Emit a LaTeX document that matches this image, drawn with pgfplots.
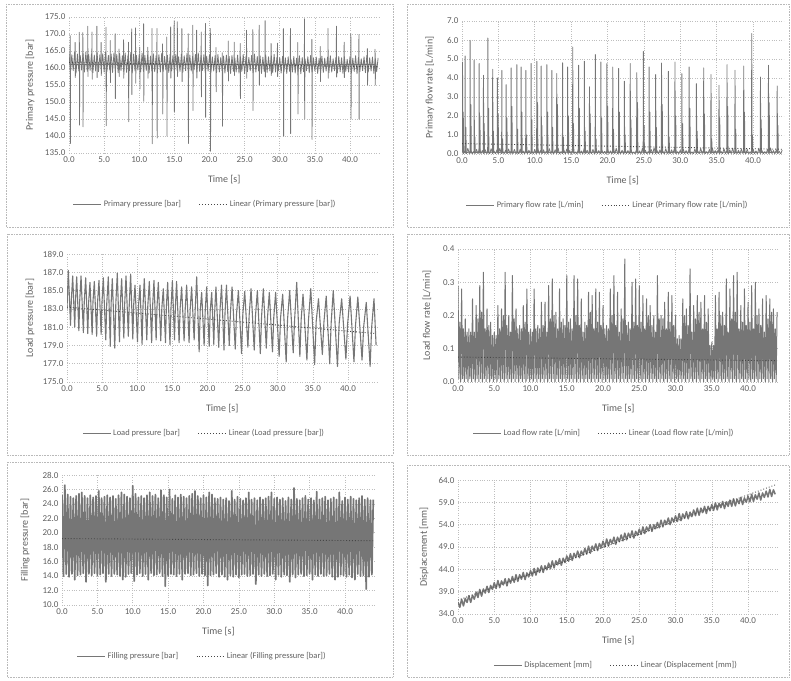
\documentclass[border=0pt]{standalone}
\usepackage{fontspec}
\setmainfont{Carlito}
\usepackage{pgfplots}
\pgfplotsset{compat=1.18}
\definecolor{datagray}{RGB}{118,118,118}
\definecolor{trendgray}{RGB}{70,70,70}
\definecolor{gridgray}{RGB}{190,190,190}
\definecolor{txtgray}{RGB}{95,95,95}
\definecolor{bordergray}{RGB}{185,185,185}
\pgfplotsset{
  legend image code/.code={\draw[#1, line width=0.7pt] (0pt,0pt) -- (28pt,0pt);},
  panel/.style={
    scale only axis,
    xmin=0, xmax=44.2,
    xtick={0,5,10,15,20,25,30,35,40},
    grid=major,
    major grid style={gridgray, dotted, line width=0.6pt},
    axis line style={draw=none},
    tick style={draw=none},
    tick label style={font=\fontsize{9}{10}\selectfont, color=txtgray},
    /pgf/number format/fixed,
    /pgf/number format/fixed zerofill,
    /pgf/number format/precision=1,
    /pgf/number format/assume math mode=true,
    label style={font=\fontsize{10}{11}\selectfont, color=txtgray},
    xlabel={Time [s]},
    xlabel style={at={(axis description cs:0.5,0)}, anchor=center, yshift=-27pt},
    legend columns=2,
    legend style={draw=none, fill=none, font=\fontsize{8.5}{9.5}\selectfont, text=txtgray,
      at={(axis description cs:0.5,0)}, anchor=center, yshift=-51pt,
      /tikz/every even column/.append style={column sep=16pt}},
  },
  dline/.style={datagray, line width=0.8pt, line join=round},
  tline/.style={trendgray, dotted, line width=0.9pt},
}
\begin{document}
\begin{tikzpicture}
\useasboundingbox (0,0) rectangle (791pt,680pt);

% ---------------- Panel 1: Primary pressure
\begin{axis}[panel, at={(69pt,527pt)}, anchor=south west, width=310.5pt, height=136pt,
  ymin=135, ymax=175, ytick={135,140,145,150,155,160,165,170,175},
  ylabel={Primary pressure [bar]}, ylabel style={at={(axis description cs:-0.125,0.5)}, anchor=center},
  legend style={xshift=-19pt}]
\addplot[dline] coordinates {(0,164.4)(0.2,158.7)(0.4,163.9)(0.6,159.2)(0.8,164.6)(1,158.5)(1.2,164.1)(1.4,159.1)(1.6,163.7)(1.8,159.4)(2,164.3)(2.2,158.8)(2.4,164.7)(2.6,159)(2.8,164)(3,159.3)(3.2,164.2)(3.4,158.6)(3.6,163.8)(3.8,159.1)(4,164.5)(4.2,158.9)(4.4,163.9)(4.6,159.3)(4.8,164.2)(5,158.8)(5.2,164.6)(5.4,159)(5.6,163.7)(5.8,159.4)(6,164.1)(6.2,158.7)(6.4,164.4)(6.6,159.1)(6.8,164)(7,158.6)(7.2,164.3)(7.4,159.2)(7.6,163.6)(7.8,159)(8,164.4)(8.2,158.7)(8.4,163.9)(8.6,159.2)(8.8,164.6)(9,158.5)(9.2,164.1)(9.4,159.1)(9.6,163.7)(9.8,159.4)(10,164)(10.2,158.8)(10.4,164.4)(10.6,159)(10.8,163.7)(11,159.3)(11.2,163.9)(11.4,158.6)(11.6,163.5)(11.8,159.1)(12,164.2)(12.2,158.9)(12.4,163.6)(12.6,159.3)(12.8,163.9)(13,158.8)(13.2,164.3)(13.4,159)(13.6,163.4)(13.8,159.4)(14,163.8)(14.2,158.7)(14.4,164.1)(14.6,159.1)(14.8,163.7)(15,158.6)(15.2,164)(15.4,159.2)(15.6,163.3)(15.8,159)(16,164.1)(16.2,158.7)(16.4,163.6)(16.6,159.2)(16.8,164.3)(17,158.5)(17.2,163.8)(17.4,159.1)(17.6,163.4)(17.8,159.4)(18,164)(18.2,158.8)(18.4,164.4)(18.6,159)(18.8,163.7)(19,159.3)(19.2,163.9)(19.4,158.6)(19.6,163.5)(19.8,159.1)(20,163.9)(20.2,158.7)(20.4,163.3)(20.6,159.1)(20.8,163.6)(21,158.6)(21.2,164)(21.4,158.8)(21.6,163.1)(21.8,159.2)(22,163.5)(22.2,158.5)(22.4,163.8)(22.6,158.9)(22.8,163.4)(23,158.4)(23.2,163.7)(23.4,159)(23.6,163)(23.8,158.8)(24,163.8)(24.2,158.5)(24.4,163.3)(24.6,159)(24.8,164)(25,158.3)(25.2,163.5)(25.4,158.9)(25.6,163.1)(25.8,159.2)(26,163.7)(26.2,158.6)(26.4,164.1)(26.6,158.8)(26.8,163.4)(27,159.1)(27.2,163.6)(27.4,158.4)(27.6,163.2)(27.8,158.9)(28,163.9)(28.2,158.7)(28.4,163.3)(28.6,159.1)(28.8,163.6)(29,158.6)(29.2,164)(29.4,158.8)(29.6,163.1)(29.8,159.2)(30,163.1)(30.2,158.5)(30.4,163.4)(30.6,158.9)(30.8,163)(31,158.4)(31.2,163.3)(31.4,159)(31.6,162.6)(31.8,158.8)(32,163.4)(32.2,158.5)(32.4,162.9)(32.6,159)(32.8,163.6)(33,158.3)(33.2,163.1)(33.4,158.9)(33.6,162.7)(33.8,159.2)(34,163.3)(34.2,158.6)(34.4,163.7)(34.6,158.8)(34.8,163)(35,159.1)(35.2,163.2)(35.4,158.4)(35.6,162.8)(35.8,158.9)(36,163.5)(36.2,158.7)(36.4,162.9)(36.6,159.1)(36.8,163.2)(37,158.6)(37.2,163.6)(37.4,158.8)(37.6,162.7)(37.8,159.2)(38,163.1)(38.2,158.5)(38.4,163.4)(38.6,158.9)(38.8,163)(39,158.4)(39.2,163.3)(39.4,159)(39.6,162.6)(39.8,158.8)(40,163.4)(40.2,158.5)(40.4,162.9)(40.6,159)(40.8,163.6)(41,158.3)(41.2,163.1)(41.4,158.9)(41.6,162.7)(41.8,159.2)(42,163.3)(42.2,158.6)(42.4,163.7)(42.6,158.8)(42.8,163)(43,159.1)(43.2,163.2)(43.4,158.4)(43.6,162.8)(43.8,158.9)(44,163)};
\addlegendentry{Primary pressure [bar]}
\addplot[dline, line width=0.8pt, forget plot] coordinates {(0.15,161)(0.17,169.5)(0.2,137.8)(0.23,161)(0.85,161)(0.87,167.5)(0.9,157.2)(0.93,161)(1.45,161)(1.47,170.5)(1.5,143.2)(1.53,161)(1.95,161)(1.97,170.4)(2,142.7)(2.03,161)(2.65,161)(2.67,172.3)(2.7,157.5)(2.73,161)(3.25,161)(3.27,170.6)(3.3,156.7)(3.33,161)(3.95,161)(3.97,172.3)(4,157.2)(4.03,161)(4.55,161)(4.57,167.5)(4.6,157.8)(4.63,161)(5.25,161)(5.27,172)(5.3,143)(5.33,161)(5.85,161)(5.87,168.1)(5.9,155.7)(5.93,161)(6.55,161)(6.57,170.1)(6.6,151)(6.63,161)(7.1,161)(7.12,165.6)(7.15,157.5)(7.18,161)(7.75,161)(7.77,168.3)(7.8,157)(7.83,161)(8.45,161)(8.47,167.6)(8.5,144.2)(8.53,161)(8.9,161)(8.92,171.5)(8.95,152.2)(8.98,161)(9.45,161)(9.47,171.8)(9.5,155.5)(9.53,161)(10.05,161)(10.07,166.1)(10.1,153.8)(10.13,161)(10.6,161)(10.62,173)(10.65,150.2)(10.68,161)(11.2,161)(11.22,166.1)(11.25,157)(11.28,161)(11.8,161)(11.82,171.6)(11.85,137.7)(11.88,161)(12.5,161)(12.52,171.6)(12.55,139.4)(12.58,161)(13.3,161)(13.32,167.1)(13.35,146.5)(13.38,161)(13.9,161)(13.92,169.1)(13.95,140)(13.98,161)(14.45,161)(14.47,172.1)(14.5,157)(14.53,161)(14.95,161)(14.97,173.9)(15,147.2)(15.03,161)(15.4,161)(15.42,173.6)(15.45,157.5)(15.48,161)(16.05,161)(16.07,171.6)(16.1,156)(16.13,161)(16.95,161)(16.97,170.1)(17,137.8)(17.03,161)(17.6,161)(17.62,172.6)(17.65,147.5)(17.68,161)(18.15,161)(18.17,171.1)(18.2,157)(18.23,161)(18.8,161)(18.82,170.6)(18.85,151.5)(18.88,161)(19.4,161)(19.42,173.1)(19.45,145.5)(19.48,161)(20.1,161)(20.12,171.6)(20.15,135.5)(20.18,161)(20.9,161)(20.92,166)(20.95,153)(20.98,161)(21.8,161)(21.82,164.5)(21.85,142.9)(21.88,161)(22.65,161)(22.67,167.9)(22.7,156.2)(22.73,161)(23.5,161)(23.52,167.6)(23.55,157.8)(23.58,161)(24.35,161)(24.37,167.2)(24.4,151)(24.43,161)(25.25,161)(25.27,171.1)(25.3,157)(25.33,161)(26.15,161)(26.17,171.3)(26.2,147.5)(26.23,161)(27.05,161)(27.07,172.6)(27.1,155)(27.13,161)(27.9,161)(27.92,173.9)(27.95,157.3)(27.98,161)(28.75,161)(28.77,167.2)(28.8,157.8)(28.83,161)(29.65,161)(29.67,167.3)(29.7,157.5)(29.73,161)(30.5,161)(30.52,171.6)(30.55,140)(30.58,161)(31.5,161)(31.52,171.6)(31.55,140.7)(31.58,161)(32.55,161)(32.57,167.5)(32.6,146.5)(32.63,161)(33.5,161)(33.52,174.5)(33.55,145)(33.58,161)(34.55,161)(34.57,168.4)(34.6,139)(34.63,161)(35.75,161)(35.77,166.3)(35.8,156)(35.83,161)(36.85,161)(36.87,171.6)(36.9,157)(36.93,161)(38.05,161)(38.07,172.3)(38.1,157.3)(38.13,161)(39.15,161)(39.17,167.6)(39.2,157.2)(39.23,161)(40.1,161)(40.12,170.1)(40.15,145)(40.18,161)(41.25,161)(41.27,169.8)(41.3,145)(41.33,161)(42.45,161)(42.47,165.7)(42.5,155)(42.53,161)(43.55,161)(43.57,165.5)(43.6,155)(43.63,161)};
\addplot[tline] coordinates {(0,161.6)(44,160.4)};
\addlegendentry{Linear (Primary pressure [bar])}
\end{axis}

% ---------------- Panel 2: Primary flow rate
\begin{axis}[panel, at={(462pt,526pt)}, anchor=south west, width=321.6pt, height=133pt,
  ymin=0, ymax=7, ytick={0,1,2,3,4,5,6,7},
  ylabel={Primary flow rate [L/min]}, ylabel style={at={(axis description cs:-0.1,0.5)}, anchor=center},
  legend style={xshift=-15pt}]
\addplot[dline] coordinates {(0,0.26)(0.2,0.02)(0.4,0.16)(0.6,0)(0.8,0.3)(1,0.02)(1.2,0.2)(1.4,0)(1.6,0.12)(1.8,0.02)(2,0.24)(2.2,0)(2.4,0.32)(2.6,0.02)(2.8,0.18)(3,0)(3.2,0.22)(3.4,0.02)(3.6,0.14)(3.8,0)(4,0.28)(4.2,0.02)(4.4,0.16)(4.6,0)(4.8,0.22)(5,0.02)(5.2,0.3)(5.4,0)(5.6,0.12)(5.8,0.02)(6,0.2)(6.2,0)(6.4,0.26)(6.6,0.02)(6.8,0.18)(7,0)(7.2,0.24)(7.4,0.02)(7.6,0.1)(7.8,0)(8,0.26)(8.2,0.02)(8.4,0.16)(8.6,0)(8.8,0.3)(9,0.02)(9.2,0.2)(9.4,0)(9.6,0.12)(9.8,0.02)(10,0.24)(10.2,0)(10.4,0.32)(10.6,0.02)(10.8,0.18)(11,0)(11.2,0.22)(11.4,0.02)(11.6,0.14)(11.8,0)(12,0.28)(12.2,0.02)(12.4,0.16)(12.6,0)(12.8,0.22)(13,0.02)(13.2,0.3)(13.4,0)(13.6,0.12)(13.8,0.02)(14,0.2)(14.2,0)(14.4,0.26)(14.6,0.02)(14.8,0.18)(15,0)(15.2,0.24)(15.4,0.02)(15.6,0.1)(15.8,0)(16,0.26)(16.2,0.02)(16.4,0.16)(16.6,0)(16.8,0.3)(17,0.02)(17.2,0.2)(17.4,0)(17.6,0.12)(17.8,0.02)(18,0.24)(18.2,0)(18.4,0.32)(18.6,0.02)(18.8,0.18)(19,0)(19.2,0.22)(19.4,0.02)(19.6,0.14)(19.8,0)(20,0.28)(20.2,0.02)(20.4,0.16)(20.6,0)(20.8,0.22)(21,0.02)(21.2,0.3)(21.4,0)(21.6,0.12)(21.8,0.02)(22,0.2)(22.2,0)(22.4,0.26)(22.6,0.02)(22.8,0.18)(23,0)(23.2,0.24)(23.4,0.02)(23.6,0.1)(23.8,0)(24,0.26)(24.2,0.02)(24.4,0.16)(24.6,0)(24.8,0.3)(25,0.02)(25.2,0.2)(25.4,0)(25.6,0.12)(25.8,0.02)(26,0.24)(26.2,0)(26.4,0.32)(26.6,0.02)(26.8,0.18)(27,0)(27.2,0.22)(27.4,0.02)(27.6,0.14)(27.8,0)(28,0.28)(28.2,0.02)(28.4,0.16)(28.6,0)(28.8,0.22)(29,0.02)(29.2,0.3)(29.4,0)(29.6,0.12)(29.8,0.02)(30,0.2)(30.2,0)(30.4,0.26)(30.6,0.02)(30.8,0.18)(31,0)(31.2,0.24)(31.4,0.02)(31.6,0.1)(31.8,0)(32,0.26)(32.2,0.02)(32.4,0.16)(32.6,0)(32.8,0.3)(33,0.02)(33.2,0.2)(33.4,0)(33.6,0.12)(33.8,0.02)(34,0.24)(34.2,0)(34.4,0.32)(34.6,0.02)(34.8,0.18)(35,0)(35.2,0.22)(35.4,0.02)(35.6,0.14)(35.8,0)(36,0.28)(36.2,0.02)(36.4,0.16)(36.6,0)(36.8,0.22)(37,0.02)(37.2,0.3)(37.4,0)(37.6,0.12)(37.8,0.02)(38,0.2)(38.2,0)(38.4,0.26)(38.6,0.02)(38.8,0.18)(39,0)(39.2,0.24)(39.4,0.02)(39.6,0.1)(39.8,0)(40,0.26)(40.2,0.02)(40.4,0.16)(40.6,0)(40.8,0.3)(41,0.02)(41.2,0.2)(41.4,0)(41.6,0.12)(41.8,0.02)(42,0.24)(42.2,0)(42.4,0.32)(42.6,0.02)(42.8,0.18)(43,0)(43.2,0.22)(43.4,0.02)(43.6,0.14)(43.8,0)(44,0.2)};
\addlegendentry{Primary flow rate [L/min]}
\addplot[dline, line width=0.9pt, forget plot] coordinates {(0.05,0.1)(0.07,4.84)(0.1,0.05)(0.17,2.2)(0.22,0.08)(0.41,0.1)(0.43,5.16)(0.46,0.05)(0.53,1.4)(0.58,0.08)(1.1,0.1)(1.12,5.98)(1.15,0.05)(1.22,2.6)(1.27,0.08)(1.65,0.1)(1.67,4.93)(1.7,0.05)(1.77,0.9)(1.82,0.08)(2.34,0.1)(2.36,4.76)(2.39,0.05)(2.46,2.0)(2.51,0.08)(2.93,0.1)(2.95,4.14)(2.98,0.05)(3.05,1.6)(3.1,0.08)(3.53,0.1)(3.55,6.1)(3.58,0.05)(3.65,2.4)(3.7,0.08)(4.2,0.1)(4.22,4.46)(4.25,0.05)(4.32,1.2)(4.37,0.08)(4.85,0.1)(4.87,4.0)(4.9,0.05)(4.97,2.1)(5.02,0.08)(5.45,0.1)(5.47,4.4)(5.5,0.05)(5.57,0.8)(5.62,0.08)(6.05,0.1)(6.07,3.65)(6.1,0.05)(6.17,1.9)(6.22,0.08)(6.74,0.1)(6.76,4.53)(6.79,0.05)(6.86,2.5)(6.91,0.08)(7.52,0.1)(7.54,4.7)(7.57,0.05)(7.64,1.3)(7.69,0.08)(8.1,0.1)(8.12,4.58)(8.15,0.05)(8.22,2.2)(8.27,0.08)(8.75,0.1)(8.77,4.4)(8.8,0.05)(8.87,1.0)(8.92,0.08)(9.48,0.1)(9.5,4.76)(9.53,0.05)(9.6,1.8)(9.65,0.08)(10.26,0.1)(10.28,4.88)(10.31,0.05)(10.38,2.7)(10.43,0.08)(10.86,0.1)(10.88,4.63)(10.91,0.05)(10.98,1.5)(11.03,0.08)(11.64,0.1)(11.66,4.7)(11.69,0.05)(11.76,2.2)(11.81,0.08)(12.33,0.1)(12.35,4.4)(12.38,0.05)(12.45,1.4)(12.5,0.08)(13,0.1)(13.02,4.23)(13.05,0.05)(13.12,2.6)(13.17,0.08)(13.8,0.1)(13.82,4.8)(13.85,0.05)(13.92,0.9)(13.97,0.08)(14.5,0.1)(14.52,4.58)(14.55,0.05)(14.62,2.0)(14.67,0.08)(15.2,0.1)(15.22,5.63)(15.25,0.05)(15.32,1.6)(15.37,0.08)(16,0.1)(16.02,4.67)(16.05,0.05)(16.12,2.4)(16.17,0.08)(16.8,0.1)(16.82,4.88)(16.85,0.05)(16.92,1.2)(16.97,0.08)(17.5,0.1)(17.52,3.53)(17.55,0.05)(17.62,2.1)(17.67,0.08)(18.3,0.1)(18.32,5.23)(18.35,0.05)(18.42,0.8)(18.47,0.08)(19.07,0.1)(19.09,4.84)(19.12,0.05)(19.19,1.9)(19.24,0.08)(19.9,0.1)(19.92,4.76)(19.95,0.05)(20.02,2.5)(20.07,0.08)(20.7,0.1)(20.72,4.58)(20.75,0.05)(20.82,1.3)(20.87,0.08)(21.5,0.1)(21.52,4.5)(21.55,0.05)(21.62,2.2)(21.67,0.08)(22.3,0.1)(22.32,3.83)(22.35,0.05)(22.42,1.0)(22.47,0.08)(23.1,0.1)(23.12,4.76)(23.15,0.05)(23.22,1.8)(23.27,0.08)(24,0.1)(24.02,4.28)(24.05,0.05)(24.12,2.7)(24.17,0.08)(24.9,0.1)(24.92,5.4)(24.95,0.05)(25.02,1.5)(25.07,0.08)(25.7,0.1)(25.72,4.58)(25.75,0.05)(25.82,2.2)(25.87,0.08)(26.6,0.1)(26.62,4.18)(26.65,0.05)(26.72,1.4)(26.77,0.08)(27.4,0.1)(27.42,4.79)(27.45,0.05)(27.52,2.6)(27.57,0.08)(28.35,0.1)(28.37,4.35)(28.4,0.05)(28.47,0.9)(28.52,0.08)(29.25,0.1)(29.27,4.84)(29.3,0.05)(29.37,2.0)(29.42,0.08)(30.2,0.1)(30.22,4.23)(30.25,0.05)(30.32,1.6)(30.37,0.08)(31.2,0.1)(31.22,4.58)(31.25,0.05)(31.32,2.4)(31.37,0.08)(32.2,0.1)(32.22,3.7)(32.25,0.05)(32.32,1.2)(32.37,0.08)(33.2,0.1)(33.22,4.53)(33.25,0.05)(33.32,2.1)(33.37,0.08)(34.2,0.1)(34.22,4.18)(34.25,0.05)(34.32,0.8)(34.37,0.08)(35.3,0.1)(35.32,3.62)(35.35,0.05)(35.42,1.9)(35.47,0.08)(36.4,0.1)(36.42,4.7)(36.45,0.05)(36.52,2.5)(36.57,0.08)(37.5,0.1)(37.52,4.4)(37.55,0.05)(37.62,1.3)(37.67,0.08)(38.7,0.1)(38.72,4.63)(38.75,0.05)(38.82,2.2)(38.87,0.08)(39.8,0.1)(39.82,6.34)(39.85,0.05)(39.92,1.0)(39.97,0.08)(41,0.1)(41.02,4.05)(41.05,0.05)(41.12,1.8)(41.17,0.08)(42.1,0.1)(42.12,4.67)(42.15,0.05)(42.22,2.7)(42.27,0.08)(43.3,0.1)(43.32,3.58)(43.35,0.05)(43.42,1.5)(43.47,0.08)};
\addplot[tline] coordinates {(0,0.55)(44,0.25)};
\addlegendentry{Linear (Primary flow rate [L/min])}
\end{axis}

% ---------------- Panel 3: Load pressure
\begin{axis}[panel, at={(67pt,298pt)}, anchor=south west, width=310.5pt, height=128pt,
  ymin=175, ymax=189, ytick={175,177,179,181,183,185,187,189},
  ylabel={Load pressure [bar]}, ylabel style={at={(axis description cs:-0.119,0.5)}, anchor=center},
  legend style={xshift=-18pt}]
\addplot[dline, line width=1.1pt] coordinates {(0,183)(0.19,187.2)(0.5,181.2)(0.62,184)(0.81,186.6)(1.1,181)(1.21,183.9)(1.38,186.5)(1.69,180.6)(1.81,183.9)(2,186.6)(2.33,180.4)(2.46,183.8)(2.66,186.4)(2.96,180.3)(3.09,183.8)(3.27,185.9)(3.58,180.2)(3.7,183.8)(3.89,186)(4.22,180)(4.35,183.7)(4.55,186.1)(4.86,180.2)(4.98,183.7)(5.17,186.4)(5.52,179.6)(5.66,183.6)(5.88,186.5)(6.16,178.9)(6.28,183.6)(6.45,186.3)(6.8,178.7)(6.95,183.6)(7.16,186.9)(7.47,179.4)(7.59,183.5)(7.78,186.3)(8.09,179.8)(8.21,183.5)(8.4,186.6)(8.73,180)(8.86,183.4)(9.06,186.8)(9.37,179.7)(9.49,183.4)(9.68,185.6)(10.03,179.4)(10.18,183.3)(10.39,185.6)(10.69,179.1)(10.82,183.3)(11,186.3)(11.36,179.6)(11.5,183.3)(11.72,186)(12.05,179.3)(12.18,183.2)(12.38,186.1)(12.69,179.6)(12.81,183.2)(13,185.9)(13.35,179.5)(13.5,183.1)(13.71,185.2)(14.02,179.3)(14.14,183.1)(14.33,185.9)(14.66,179.1)(14.8,183)(15,186.1)(15.3,179.6)(15.42,183)(15.6,186)(15.96,179.3)(16.1,183)(16.32,185.4)(16.67,179.5)(16.82,182.9)(17.03,185.6)(17.38,179.3)(17.53,182.9)(17.74,185.4)(18.1,179.6)(18.24,182.8)(18.46,186.5)(18.81,178.3)(18.96,182.8)(19.17,184.8)(19.52,179)(19.67,182.7)(19.88,185.4)(20.24,178.9)(20.38,182.7)(20.6,184.8)(20.9,179.1)(21.02,182.6)(21.2,185.4)(21.6,178.8)(21.76,182.6)(22,185.6)(22.35,178.5)(22.49,182.5)(22.7,185.6)(23.1,179)(23.26,182.5)(23.5,185.4)(23.95,178.6)(24.13,182.4)(24.4,185)(24.85,178.1)(25.03,182.4)(25.3,184.9)(25.75,178.8)(25.93,182.3)(26.2,185.2)(26.65,178.5)(26.83,182.2)(27.1,185)(27.52,178.1)(27.7,182.2)(27.95,185.2)(28.37,178.7)(28.55,182.1)(28.8,184.8)(29.25,178.3)(29.43,182)(29.7,184.8)(30.2,177.8)(30.4,182)(30.7,184.6)(31.2,177.2)(31.4,181.9)(31.7,185)(32.2,178.2)(32.4,181.8)(32.7,185.9)(33.15,177.8)(33.33,181.8)(33.6,184.6)(34.15,177.4)(34.37,181.7)(34.7,185.2)(35.25,176.9)(35.47,181.6)(35.8,184.1)(36.35,178)(36.57,181.5)(36.9,184.4)(37.4,177)(37.6,181.4)(37.9,185)(38.5,176.7)(38.74,181.4)(39.1,184.1)(39.7,177.5)(39.94,181.3)(40.3,184.4)(40.85,177.2)(41.07,181.2)(41.4,184.3)(42,177.4)(42.24,181.1)(42.6,183.7)(43.15,176.7)(43.37,181)(43.7,184.1)(44,179)};
\addlegendentry{Load pressure [bar]}
\addplot[tline] coordinates {(0,183.2)(44,180.3)};
\addlegendentry{Linear (Load pressure [bar])}
\end{axis}

% ---------------- Panel 4: Load flow rate
\begin{axis}[panel, at={(458pt,298pt)}, anchor=south west, width=320.5pt, height=133pt,
  ymin=0, ymax=0.4, ytick={0,0.1,0.2,0.3,0.4},
  ylabel={Load flow rate [L/min]}, ylabel style={at={(axis description cs:-0.097,0.5)}, anchor=center},
  legend style={xshift=-14pt}]
\addplot[dline, line width=1.0pt] coordinates {(0,0.29)(0.125,0.01)(0.25,0.18)(0.375,0)(0.5,0.28)(0.625,0.01)(0.75,0.16)(0.875,0)(1,0.19)(1.125,0.01)(1.25,0.15)(1.375,0)(1.5,0.16)(1.625,0.01)(1.75,0.15)(1.875,0)(2,0.25)(2.125,0.01)(2.25,0.15)(2.375,0)(2.5,0.23)(2.625,0.01)(2.75,0.19)(2.875,0)(3,0.29)(3.125,0.01)(3.25,0.21)(3.375,0)(3.5,0.33)(3.625,0.01)(3.75,0.16)(3.875,0)(4,0.22)(4.125,0.01)(4.25,0.17)(4.375,0)(4.5,0.18)(4.625,0.01)(4.75,0.14)(4.875,0)(5,0.15)(5.125,0.01)(5.25,0.14)(5.375,0)(5.5,0.23)(5.625,0.01)(5.75,0.16)(5.875,0)(6,0.22)(6.125,0.01)(6.25,0.2)(6.375,0)(6.5,0.33)(6.625,0.01)(6.75,0.17)(6.875,0)(7,0.2)(7.125,0.01)(7.25,0.15)(7.375,0)(7.5,0.32)(7.625,0.01)(7.75,0.19)(7.875,0)(8,0.22)(8.125,0.01)(8.25,0.16)(8.375,0)(8.5,0.17)(8.625,0.01)(8.75,0.16)(8.875,0)(9,0.23)(9.125,0.01)(9.25,0.18)(9.375,0)(9.5,0.28)(9.625,0.01)(9.75,0.15)(9.875,0)(10,0.16)(10.125,0.01)(10.25,0.15)(10.375,0)(10.5,0.28)(10.625,0.01)(10.75,0.16)(10.875,0)(11,0.17)(11.125,0.01)(11.25,0.16)(11.375,0)(11.5,0.24)(11.625,0.01)(11.75,0.17)(11.875,0)(12,0.24)(12.125,0.01)(12.25,0.15)(12.375,0)(12.5,0.29)(12.625,0.01)(12.75,0.19)(12.875,0)(13,0.31)(13.125,0.01)(13.25,0.2)(13.375,0)(13.5,0.21)(13.625,0.01)(13.75,0.16)(13.875,0)(14,0.28)(14.125,0.01)(14.25,0.18)(14.375,0)(14.5,0.19)(14.625,0.01)(14.75,0.17)(14.875,0)(15,0.32)(15.125,0.01)(15.25,0.18)(15.375,0)(15.5,0.19)(15.625,0.01)(15.75,0.16)(15.875,0)(16,0.32)(16.125,0.01)(16.25,0.2)(16.375,0)(16.5,0.31)(16.625,0.01)(16.75,0.17)(16.875,0)(17,0.25)(17.125,0.01)(17.25,0.15)(17.375,0)(17.5,0.18)(17.625,0.01)(17.75,0.17)(17.875,0)(18,0.27)(18.125,0.01)(18.25,0.21)(18.375,0)(18.5,0.26)(18.625,0.01)(18.75,0.16)(18.875,0)(19,0.28)(19.125,0.01)(19.25,0.18)(19.375,0)(19.5,0.27)(19.625,0.01)(19.75,0.17)(19.875,0)(20,0.23)(20.125,0.01)(20.25,0.16)(20.375,0)(20.5,0.17)(20.625,0.01)(20.75,0.16)(20.875,0)(21,0.28)(21.125,0.01)(21.25,0.2)(21.375,0)(21.5,0.32)(21.625,0.01)(21.75,0.17)(21.875,0)(22,0.27)(22.125,0.01)(22.25,0.15)(22.375,0)(22.5,0.22)(22.625,0.01)(22.75,0.19)(22.875,0)(23,0.37)(23.125,0.01)(23.25,0.17)(23.375,0)(23.5,0.18)(23.625,0.01)(23.75,0.16)(23.875,0)(24,0.3)(24.125,0.01)(24.25,0.18)(24.375,0)(24.5,0.31)(24.625,0.01)(24.75,0.17)(24.875,0)(25,0.29)(25.125,0.01)(25.25,0.18)(25.375,0)(25.5,0.26)(25.625,0.01)(25.75,0.16)(25.875,0)(26,0.25)(26.125,0.01)(26.25,0.2)(26.375,0)(26.5,0.23)(26.625,0.01)(26.75,0.17)(26.875,0)(27,0.2)(27.125,0.01)(27.25,0.15)(27.375,0)(27.5,0.32)(27.625,0.01)(27.75,0.19)(27.875,0)(28,0.2)(28.125,0.01)(28.25,0.19)(28.375,0)(28.5,0.24)(28.625,0.01)(28.75,0.16)(28.875,0)(29,0.27)(29.125,0.01)(29.25,0.18)(29.375,0)(29.5,0.26)(29.625,0.01)(29.75,0.17)(29.875,0)(30,0.2)(30.125,0.01)(30.25,0.13)(30.375,0)(30.5,0.14)(30.625,0.01)(30.75,0.13)(30.875,0)(31,0.25)(31.125,0.01)(31.25,0.2)(31.375,0)(31.5,0.22)(31.625,0.01)(31.75,0.17)(31.875,0)(32,0.34)(32.125,0.01)(32.25,0.15)(32.375,0)(32.5,0.23)(32.625,0.01)(32.75,0.19)(32.875,0)(33,0.26)(33.125,0.01)(33.25,0.21)(33.375,0)(33.5,0.24)(33.625,0.01)(33.75,0.16)(33.875,0)(34,0.26)(34.125,0.01)(34.25,0.18)(34.375,0)(34.5,0.22)(34.625,0.01)(34.75,0.11)(34.875,0)(35,0.12)(35.125,0.01)(35.25,0.11)(35.375,0)(35.5,0.26)(35.625,0.01)(35.75,0.16)(35.875,0)(36,0.27)(36.125,0.01)(36.25,0.2)(36.375,0)(36.5,0.21)(36.625,0.01)(36.75,0.17)(36.875,0)(37,0.31)(37.125,0.01)(37.25,0.15)(37.375,0)(37.5,0.28)(37.625,0.01)(37.75,0.19)(37.875,0)(38,0.32)(38.125,0.01)(38.25,0.21)(38.375,0)(38.5,0.33)(38.625,0.01)(38.75,0.16)(38.875,0)(39,0.23)(39.125,0.01)(39.25,0.18)(39.375,0)(39.5,0.28)(39.625,0.01)(39.75,0.17)(39.875,0)(40,0.24)(40.125,0.01)(40.25,0.18)(40.375,0)(40.5,0.29)(40.625,0.01)(40.75,0.16)(40.875,0)(41,0.3)(41.125,0.01)(41.25,0.2)(41.375,0)(41.5,0.22)(41.625,0.01)(41.75,0.17)(41.875,0)(42,0.25)(42.125,0.01)(42.25,0.15)(42.375,0)(42.5,0.26)(42.625,0.01)(42.75,0.19)(42.875,0)(43,0.25)(43.125,0.01)(43.25,0.21)(43.375,0)(43.5,0.22)(43.625,0.01)(43.75,0.16)(43.875,0)(44,0.21)};
\addlegendentry{Load flow rate [L/min]}
\addplot[tline] coordinates {(0,0.075)(44,0.064)};
\addlegendentry{Linear (Load flow rate [L/min])}
\end{axis}

% ---------------- Panel 5: Filling pressure
\begin{axis}[panel, at={(62pt,75pt)}, anchor=south west, width=312.7pt, height=130pt,
  ymin=10, ymax=28, ytick={10,12,14,16,18,20,22,24,26,28},
  ylabel={Filling pressure [bar]}, ylabel style={at={(axis description cs:-0.118,0.5)}, anchor=center},
  legend style={xshift=-16pt}]
\addplot[dline, line width=1.7pt] coordinates {(0,25.2)(0.2,14.0)(0.4,26.6)(0.6,14.3)(0.8,25.3)(1.0,13.9)(1.2,25.0)(1.4,14.3)(1.6,24.8)(1.8,13.5)(2.0,25.1)(2.2,14.1)(2.4,25.4)(2.6,14.2)(2.8,25.6)(3.0,14.4)(3.2,25.1)(3.4,13.2)(3.6,24.8)(3.8,14.3)(4.0,25.2)(4.2,14.1)(4.4,24.9)(4.6,14.4)(4.8,25.1)(5.0,14.1)(5.2,25.8)(5.4,14.2)(5.6,24.8)(5.8,14.4)(6.0,25.0)(6.2,13.2)(6.4,25.2)(6.6,14.3)(6.8,24.9)(7.0,14.0)(7.2,25.1)(7.4,14.3)(7.6,24.7)(7.8,14.2)(8.0,25.2)(8.2,14.0)(8.4,25.6)(8.6,13.5)(8.8,25.3)(9.0,13.9)(9.2,25.0)(9.4,14.3)(9.6,24.8)(9.8,14.4)(10.0,26.5)(10.2,13.3)(10.4,25.4)(10.6,14.2)(10.8,24.9)(11.0,14.4)(11.2,25.1)(11.4,14.0)(11.6,24.8)(11.8,14.3)(12.0,25.2)(12.2,13.5)(12.4,25.6)(12.6,14.4)(12.8,25.1)(13.0,14.1)(13.2,25.3)(13.4,14.2)(13.6,24.8)(13.8,14.4)(14.0,25.9)(14.2,14.0)(14.4,25.2)(14.6,12.6)(14.8,24.9)(15.0,14.0)(15.2,26.0)(15.4,14.3)(15.6,24.7)(15.8,14.2)(16.0,25.2)(16.2,14.0)(16.4,24.9)(16.6,14.3)(16.8,25.3)(17.0,13.5)(17.2,25.0)(17.4,14.3)(17.6,24.8)(17.8,14.4)(18.0,25.1)(18.2,14.1)(18.4,25.4)(18.6,14.2)(18.8,25.8)(19.0,14.4)(19.2,25.1)(19.4,14.0)(19.6,24.8)(19.8,14.3)(20.0,25.2)(20.2,14.1)(20.4,24.9)(20.6,12.7)(20.8,25.6)(21.0,14.1)(21.2,25.3)(21.4,14.2)(21.6,24.8)(21.8,14.4)(22.0,24.7)(22.2,13.9)(22.4,24.9)(22.6,14.2)(22.8,24.6)(23.0,13.9)(23.2,24.8)(23.4,13.5)(23.6,24.4)(23.8,14.1)(24.0,25.8)(24.2,13.9)(24.4,24.6)(24.6,14.2)(24.8,25.0)(25.0,13.8)(25.2,24.7)(25.4,14.2)(25.6,24.5)(25.8,14.3)(26.0,24.8)(26.2,14.0)(26.4,25.6)(26.6,14.1)(26.8,24.6)(27.0,14.3)(27.2,24.8)(27.4,12.9)(27.6,24.5)(27.8,14.2)(28.0,24.9)(28.2,14.0)(28.4,24.6)(28.6,14.3)(28.8,24.8)(29.0,14.0)(29.2,25.0)(29.4,14.1)(29.6,25.6)(29.8,14.3)(30.0,24.7)(30.2,13.5)(30.4,24.9)(30.6,14.2)(30.8,24.6)(31.0,13.9)(31.2,24.8)(31.4,14.2)(31.6,24.4)(31.8,14.1)(32.0,24.9)(32.2,13.2)(32.4,24.6)(32.6,14.2)(32.8,26.2)(33.0,13.8)(33.2,24.7)(33.4,14.2)(33.6,24.5)(33.8,14.3)(34.0,24.8)(34.2,14.0)(34.4,25.1)(34.6,14.1)(34.8,24.6)(35.0,14.3)(35.2,24.8)(35.4,13.5)(35.6,24.5)(35.8,14.2)(36.0,25.7)(36.2,14.0)(36.4,24.6)(36.6,14.3)(36.8,24.8)(37.0,14.0)(37.2,25.0)(37.4,14.1)(37.6,24.5)(37.8,14.3)(38.0,24.7)(38.2,13.9)(38.4,24.9)(38.6,13.5)(38.8,24.6)(39.0,13.9)(39.2,25.6)(39.4,14.2)(39.6,24.4)(39.8,14.1)(40.0,24.9)(40.2,13.9)(40.4,24.6)(40.6,14.2)(40.8,25.0)(41.0,13.8)(41.2,24.7)(41.4,13.5)(41.6,24.5)(41.8,14.3)(42.0,24.8)(42.2,14.0)(42.4,25.1)(42.6,14.1)(42.8,24.6)(43.0,12.2)(43.2,24.8)(43.4,13.9)(43.6,24.5)(43.8,14.2)(44.0,24.6)};
\addlegendentry{Filling pressure [bar]}
\addplot[tline] coordinates {(0,19.2)(44,18.9)};
\addlegendentry{Linear (Filling pressure [bar])}
\end{axis}

% ---------------- Panel 6: Displacement
\begin{axis}[panel, at={(458pt,66pt)}, anchor=south west, width=320.5pt, height=134pt,
  ymin=34, ymax=64, ytick={34,39,44,49,54,59,64},
  ylabel={Displacement [mm]}, ylabel style={at={(axis description cs:-0.106,0.5)}, anchor=center},
  legend style={xshift=-2pt}]
\addplot[dline, line width=1.5pt] coordinates {(0,36.7)(0.25,35.5)(0.5,37.3)(0.75,35.8)(1,37.5)(1.25,36.6)(1.5,38.1)(1.75,36.6)(2,38.2)(2.25,37.3)(2.5,38.9)(2.75,37.7)(3,39.5)(3.25,38.0)(3.5,39.6)(3.75,38.7)(4,40.2)(4.25,38.8)(4.5,40.4)(4.75,39.5)(5,41.0)(5.25,39.7)(5.5,41.5)(5.75,39.9)(6,41.4)(6.25,40.5)(6.5,41.9)(6.75,40.3)(7,41.9)(7.25,40.9)(7.5,42.4)(7.75,41.1)(8,42.8)(8.25,41.3)(8.5,42.8)(8.75,41.8)(9,43.3)(9.25,41.7)(9.5,43.2)(9.75,42.3)(10,43.7)(10.25,42.5)(10.5,44.2)(10.75,42.7)(11,44.3)(11.25,43.3)(11.5,44.8)(11.75,43.3)(12,44.8)(12.25,43.9)(12.5,45.4)(12.75,44.1)(13,45.9)(13.25,44.3)(13.5,45.9)(13.75,45.0)(14,46.4)(14.25,44.9)(14.5,46.5)(14.75,45.5)(15,47.0)(15.25,45.8)(15.5,47.5)(15.75,46.0)(16,47.6)(16.25,46.6)(16.5,48.1)(16.75,46.6)(17,48.1)(17.25,47.2)(17.5,48.7)(17.75,47.4)(18,49.2)(18.25,47.6)(18.5,49.2)(18.75,48.3)(19,49.7)(19.25,48.2)(19.5,49.8)(19.75,48.8)(20,50.3)(20.25,49.0)(20.5,50.8)(20.75,49.2)(21,50.7)(21.25,49.8)(21.5,51.2)(21.75,49.6)(22,51.2)(22.25,50.2)(22.5,51.7)(22.75,50.4)(23,52.1)(23.25,50.6)(23.5,52.1)(23.75,51.1)(24,52.6)(24.25,51.0)(24.5,52.5)(24.75,51.6)(25,53.0)(25.25,51.8)(25.5,53.5)(25.75,52.0)(26,53.5)(26.25,52.6)(26.5,54.0)(26.75,52.5)(27,54.0)(27.25,53.1)(27.5,54.5)(27.75,53.3)(28,55.0)(28.25,53.5)(28.5,55.0)(28.75,54.1)(29,55.5)(29.25,54.0)(29.5,55.5)(29.75,54.6)(30,56.0)(30.25,54.7)(30.5,56.5)(30.75,54.9)(31,56.4)(31.25,55.4)(31.5,56.9)(31.75,55.3)(32,56.8)(32.25,55.8)(32.5,57.3)(32.75,56.0)(33,57.7)(33.25,56.1)(33.5,57.7)(33.75,56.7)(34,58.1)(34.25,56.5)(34.5,58.1)(34.75,57.1)(35,58.5)(35.25,57.2)(35.5,58.9)(35.75,57.3)(36,58.8)(36.25,57.8)(36.5,59.2)(36.75,57.6)(37,59.1)(37.25,58.1)(37.5,59.5)(37.75,58.1)(38,59.8)(38.25,58.2)(38.5,59.7)(38.75,58.7)(39,60.1)(39.25,58.5)(39.5,60.0)(39.75,59.0)(40,60.4)(40.25,59.1)(40.5,60.8)(40.75,59.2)(41,60.7)(41.25,59.7)(41.5,61.1)(41.75,59.5)(42,61.1)(42.25,60.1)(42.5,61.5)(42.75,60.2)(43,61.9)(43.25,60.3)(43.5,61.8)(43.75,60.8)};
\addlegendentry{Displacement [mm]}
\addplot[tline] coordinates {(0,37.1)(43.75,62.9)};
\addlegendentry{Linear (Displacement [mm])}
\end{axis}

% chart area borders
\draw[bordergray, densely dotted, line width=0.6pt] (6pt,676pt) rectangle (393pt,453pt);
\draw[bordergray, densely dotted, line width=0.6pt] (7pt,446pt) rectangle (393pt,225pt);
\draw[bordergray, densely dotted, line width=0.6pt] (7pt,218pt) rectangle (393pt,3pt);
\draw[bordergray, densely dotted, line width=0.6pt] (407pt,676pt) rectangle (789pt,453pt);
\draw[bordergray, densely dotted, line width=0.6pt] (407pt,446pt) rectangle (789pt,225pt);
\draw[bordergray, densely dotted, line width=0.6pt] (407pt,215pt) rectangle (789pt,3pt);
\end{tikzpicture}
\end{document}
